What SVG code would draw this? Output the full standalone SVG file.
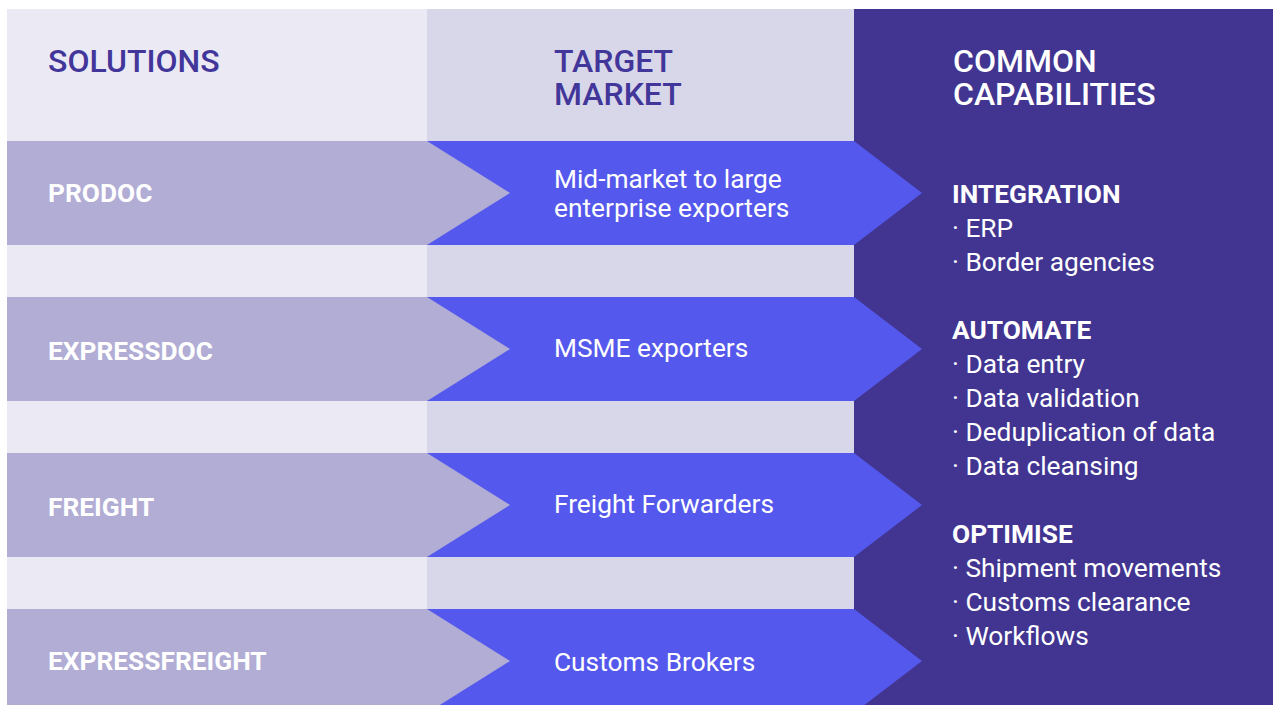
<svg xmlns="http://www.w3.org/2000/svg" width="1273" height="705" viewBox="0 0 1273 705">
  <style>
    text { font-family: Roboto, "Liberation Sans", sans-serif; }
    .head { font-size: 32px; font-weight: 500; fill: #42369A; }
    .head-w { font-size: 32px; font-weight: 500; fill: #FFFFFF; }
    .sol { font-size: 26.3px; font-weight: 700; fill: #FFFFFF; }
    .mkt { font-size: 26.3px; font-weight: 400; fill: #FFFFFF; }
    .cap-h { font-size: 26.3px; font-weight: 700; fill: #FFFFFF; }
    .cap { font-size: 26.3px; font-weight: 400; fill: #FFFFFF; }
    .sol-arrow { fill: #B1ADD5; }
    .mkt-arrow { fill: #5558EC; }
  </style>

  <rect width="1273" height="705" fill="#FFFFFF"/>

  <!-- column backgrounds -->
  <g id="columns">
    <rect x="7" y="9" width="420" height="696" fill="#EBE9F4"/>
    <rect x="427" y="9" width="427" height="696" fill="#D8D6E9"/>
    <rect x="854" y="9" width="419" height="696" fill="#413591"/>
  </g>

  <!-- column headings -->
  <g id="header-solutions">
    <text class="head" x="48" y="72">SOLUTIONS</text>
  </g>
  <g id="header-market">
    <text class="head" x="554" y="72">TARGET</text>
    <text class="head" x="554" y="105">MARKET</text>
  </g>
  <g id="header-capabilities">
    <text class="head-w" x="953" y="72">COMMON</text>
    <text class="head-w" x="953" y="105">CAPABILITIES</text>
  </g>

  <!-- row 1 -->
  <g id="row-prodoc">
    <polygon class="mkt-arrow" points="427,141 854,141 922,193 854,245 427,245"/>
    <polygon class="sol-arrow" points="7,141 427,141 510,193 427,245 7,245"/>
    <text class="sol" x="48" y="202">PRODOC</text>
    <text class="mkt" x="554" y="188">Mid-market to large</text>
    <text class="mkt" x="554" y="217">enterprise exporters</text>
  </g>

  <!-- row 2 -->
  <g id="row-expressdoc">
    <polygon class="mkt-arrow" points="427,297 854,297 922,349 854,401 427,401"/>
    <polygon class="sol-arrow" points="7,297 427,297 510,349 427,401 7,401"/>
    <text class="sol" x="48" y="360">EXPRESSDOC</text>
    <text class="mkt" x="554" y="357">MSME exporters</text>
  </g>

  <!-- row 3 -->
  <g id="row-freight">
    <polygon class="mkt-arrow" points="427,453 854,453 922,505 854,557 427,557"/>
    <polygon class="sol-arrow" points="7,453 427,453 510,505 427,557 7,557"/>
    <text class="sol" x="48" y="516">FREIGHT</text>
    <text class="mkt" x="554" y="513">Freight Forwarders</text>
  </g>

  <!-- row 4 (runs past the bottom edge) -->
  <g id="row-expressfreight">
    <polygon class="mkt-arrow" points="427,609 854,609 922,661 854,713 427,713"/>
    <polygon class="sol-arrow" points="7,609 427,609 510,661 427,713 7,713"/>
    <text class="sol" x="48" y="670">EXPRESSFREIGHT</text>
    <text class="mkt" x="554" y="671">Customs Brokers</text>
  </g>

  <!-- capability list -->
  <g id="capabilities">
    <text class="cap-h" x="952" y="203">INTEGRATION</text>
    <text class="cap" x="952" y="237">· ERP</text>
    <text class="cap" x="952" y="271">· Border agencies</text>

    <text class="cap-h" x="952" y="339">AUTOMATE</text>
    <text class="cap" x="952" y="373">· Data entry</text>
    <text class="cap" x="952" y="407">· Data validation</text>
    <text class="cap" x="952" y="441">· Deduplication of data</text>
    <text class="cap" x="952" y="475">· Data cleansing</text>

    <text class="cap-h" x="952" y="543">OPTIMISE</text>
    <text class="cap" x="952" y="577">· Shipment movements</text>
    <text class="cap" x="952" y="611">· Customs clearance</text>
    <text class="cap" x="952" y="645">· Workflows</text>
  </g>
</svg>
